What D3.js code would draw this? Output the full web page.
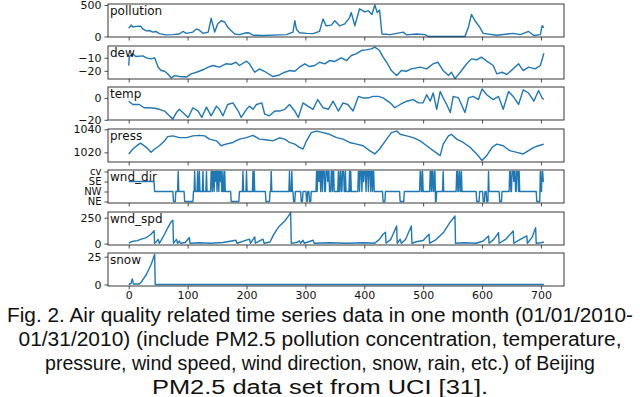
<!DOCTYPE html>
<html>
<head>
<meta charset="utf-8">
<script src="https://cdn.jsdelivr.net/npm/d3@7"></script>
<style>
  body { margin: 0; background: #fff; }
  svg { display: block; }
</style>
</head>
<body>
<div id="chart"></div>
<script>
// hourly records, Jan 2010 as [hour, value]
const pollution = [[0,130],[2,150],[4,183],[7,150],[12,160],[20,165],[24,120],[30,90],[35,95],[41,70],[46,80],[52,45],[63,25],[75,30],[86,40],[92,80],[98,50],[109,70],[115,120],[120,100],[126,50],[135,70],[140,289],[146,70],[151,200],[157,250],[163,230],[168,150],[174,90],[180,40],[188,30],[200,60],[205,55],[211,20],[228,15],[256,25],[268,30],[279,70],[282,250],[285,110],[290,60],[302,50],[313,45],[324,80],[330,280],[335,170],[344,180],[350,250],[358,170],[367,200],[375,300],[378,380],[384,170],[392,440],[401,390],[407,410],[413,350],[418,500],[422,380],[426,420],[430,40],[444,30],[466,70],[472,25],[489,40],[503,30],[509,0],[571,0],[577,150],[582,350],[588,250],[596,150],[602,50],[625,20],[653,50],[665,30],[679,80],[688,15],[699,30],[702,170],[705,140]];

const dew = [[0,-16],[1,-9],[7,-7],[12,-9],[24,-8.5],[30,-10],[38,-10.8],[44,-10],[50,-17.2],[55,-19.8],[61,-20.3],[66,-22.3],[72,-25.4],[78,-23.7],[86,-24.4],[98,-24.8],[106,-22.3],[115,-21.1],[126,-19.2],[135,-17.2],[143,-15.9],[154,-17.2],[165,-14.6],[174,-15],[182,-13.4],[188,-15.9],[200,-12.6],[205,-14.6],[214,-21.1],[222,-18.5],[233,-21.1],[245,-24.4],[256,-23.2],[265,-21.1],[273,-19.8],[282,-20.3],[290,-17.2],[299,-14.6],[307,-16.7],[316,-15.9],[324,-13.4],[333,-14.6],[341,-12.1],[350,-12.8],[361,-10],[370,-12.1],[378,-8.2],[386,-6.9],[395,-4.4],[403,-3.9],[412,-3.1],[418,-1.8],[426,-4.4],[432,-9.5],[438,-13.4],[446,-19.8],[455,-23.6],[463,-19.8],[472,-20.3],[480,-18.5],[495,-17.2],[506,-18.5],[517,-14.6],[525,-13.4],[534,-19.8],[543,-23.6],[548,-21.1],[554,-26],[563,-21.1],[574,-14.6],[582,-10.8],[591,-11.5],[599,-9.5],[608,-12.6],[619,-15.9],[625,-22.3],[634,-21.1],[642,-22.8],[653,-18.5],[662,-14.6],[670,-19.8],[679,-17.2],[690,-18.5],[699,-15.9],[705,-6.5]];

const temp = [[0,-3],[7,-6],[18,-6],[26,-9],[35,-9],[44,-9.5],[52,-10.4],[61,-12],[69,-16.4],[75,-19.4],[81,-13.4],[86,-10.4],[95,-14.9],[101,-17.9],[109,-9],[118,-12],[124,-17.9],[132,-8.4],[140,-16.4],[149,-7.5],[154,-10.4],[160,-16.4],[168,-6],[177,-4.5],[186,-12],[191,-17.9],[200,-10.4],[205,-7.5],[211,-10.4],[217,-6],[226,-4.5],[231,-14.9],[239,-16.4],[248,-12],[256,-12],[265,-10.4],[273,-6],[282,-12],[288,-17.9],[296,-4.5],[304,-7.5],[313,-10.4],[321,-1.5],[330,-9],[339,-10.4],[347,-3],[356,-12],[364,-4.5],[372,-6],[381,-12],[390,1.4],[398,0],[407,0],[415,1.4],[424,1.4],[432,0],[444,-4.5],[452,-9],[461,-6],[472,-3],[483,-1.5],[492,-4.5],[500,-4.5],[506,2.9],[512,-3],[517,4.5],[523,-10.4],[529,5.9],[534,0],[540,-6],[546,-13.4],[551,1.4],[560,0],[565,-6],[571,-13.4],[577,0],[585,1.4],[594,-1.5],[600,8.3],[608,2.9],[619,-1.5],[628,1.4],[636,-10.4],[645,5.9],[653,1.4],[662,-6],[670,7.4],[679,4.5],[688,-3],[696,6.8],[702,0],[705,-1.5]];

const press = [[0,1018.6],[7,1022.9],[15,1026.3],[20,1028],[30,1024.3],[38,1020],[44,1022.9],[52,1025.7],[61,1030],[66,1033.7],[75,1034.3],[86,1032.8],[98,1032.8],[109,1034.3],[120,1034.8],[129,1034.3],[137,1031.5],[149,1030],[157,1025.7],[165,1027.1],[177,1028.6],[188,1031.5],[200,1032.8],[211,1034.8],[222,1031.5],[233,1031],[245,1030],[256,1032.5],[265,1031.5],[273,1028.6],[282,1027.1],[290,1024.3],[296,1022.9],[302,1030],[310,1037.1],[319,1038.5],[330,1037.1],[341,1035.7],[353,1032.8],[364,1031.5],[375,1028.6],[387,1027.1],[398,1025.7],[409,1021.5],[418,1018.6],[426,1022.9],[438,1031.5],[446,1037.1],[455,1038.5],[461,1035.7],[472,1034.3],[483,1032.8],[495,1030],[506,1025.7],[517,1021.5],[529,1017.2],[534,1027.1],[543,1034.3],[548,1035.7],[557,1031.5],[568,1028.6],[580,1024.3],[591,1018.6],[600,1012.9],[608,1017.2],[617,1024.3],[625,1027.1],[636,1025.7],[647,1021.5],[659,1020],[670,1018.6],[679,1021.5],[688,1024.3],[696,1025.7],[705,1027.1]];

// wind direction as runs: [start hour, category index]
const windDirCategories = ['NE', 'NW', 'SE', 'cv'];
const windDirRuns = [[0,2],[44,1],[76,0],[80,1],[84,3],[85,1],[95,0],[110,1],[112,3],[113,1],[117,3],[118,1],[120,3],[121,1],[126,3],[127,1],[132,3],[133,1],[140,3],[142,1],[143,3],[145,1],[146,3],[147,2],[148,3],[150,1],[151,3],[153,1],[154,3],[156,2],[157,3],[158,1],[160,3],[161,1],[163,3],[164,1],[174,0],[188,1],[194,3],[195,1],[200,3],[201,1],[211,3],[212,1],[213,3],[214,1],[233,0],[240,1],[242,3],[243,1],[273,3],[274,1],[277,3],[278,1],[280,0],[283,1],[293,0],[296,1],[302,0],[304,1],[307,0],[310,1],[319,3],[320,1],[321,3],[323,2],[324,3],[326,1],[327,3],[329,1],[330,3],[333,1],[335,3],[338,2],[339,3],[341,1],[344,3],[346,1],[347,3],[349,1],[356,3],[357,1],[359,3],[361,1],[363,3],[366,1],[368,3],[369,1],[375,3],[376,1],[377,3],[378,1],[390,3],[392,1],[393,3],[396,1],[397,3],[399,2],[400,3],[403,1],[404,3],[407,1],[408,3],[411,1],[412,3],[414,1],[415,3],[417,1],[432,0],[436,1],[461,0],[468,1],[495,3],[497,1],[499,3],[500,1],[512,3],[514,1],[515,3],[517,1],[519,3],[521,0],[523,1],[534,3],[535,1],[557,3],[559,1],[561,3],[563,1],[565,3],[566,1],[591,0],[596,1],[602,0],[605,1],[608,0],[611,3],[612,1],[630,0],[634,1],[647,3],[649,1],[651,3],[654,2],[655,3],[657,1],[659,3],[662,1],[663,3],[664,1],[693,0],[699,3],[700,1],[702,3],[704,2]];
const lastHour = 705;

const windSpeed = [[0,3],[5,18],[10,25],[15,28],[20,40],[30,58],[38,90],[43,125],[44,2],[47,18],[50,40],[52,3],[55,30],[60,80],[66,150],[72,210],[75,225],[76,2],[81,40],[83,3],[86,25],[88,3],[96,10],[103,58],[104,3],[120,8],[140,3],[160,10],[182,32],[184,3],[205,42],[207,3],[214,64],[215,3],[228,42],[230,3],[240,15],[245,74],[250,122],[256,170],[265,218],[270,256],[275,300],[276,2],[285,10],[290,26],[292,3],[296,32],[298,3],[313,32],[315,3],[340,8],[370,3],[400,8],[418,3],[421,19],[426,42],[432,90],[436,110],[437,3],[445,40],[455,170],[456,3],[461,42],[463,3],[470,40],[480,170],[481,3],[490,20],[500,30],[510,90],[511,3],[520,30],[535,110],[545,200],[554,266],[555,3],[570,8],[590,3],[602,25],[611,74],[612,3],[620,40],[628,106],[629,3],[640,40],[653,122],[654,3],[662,30],[676,74],[677,3],[685,60],[691,154],[692,3],[700,8],[705,15]];

const snow = [[0,0],[4,1],[6,5],[8,0.5],[18,0.5],[21,2],[30,9],[38,18],[44,27],[45,0],[705,0]];

const xTicks = [0, 100, 200, 300, 400, 500, 600, 700];
const pollutionTicks = [0, 500];
const dewTicks = [-20, -10];
const tempTicks = [-20, 0];
const pressTicks = [1020, 1040];
const windDirTicks = [0, 1, 2, 3];
const windSpeedTicks = [0, 250];
const snowTicks = [0, 25];

const captionLines = [
  'Fig. 2. Air quality related time series data in one month (01/01/2010-',
  '01/31/2010) (include PM2.5 pollution concentration, temperature,',
  'pressure, wind speed, wind direction, snow, rain, etc.) of Beijing',
  'PM2.5 data set from UCI [31].'
];

// expand the wind direction runs into hourly steps
const windDir = [];
windDirRuns.forEach(function (r, i) {
  const end = i < windDirRuns.length - 1 ? windDirRuns[i + 1][0] - 1 : lastHour;
  windDir.push([r[0], r[1]]);
  if (end > r[0]) windDir.push([end, r[1]]);
});

const panels = [
  { name: 'pollution', data: pollution, domain: [-8, 516], ticks: pollutionTicks },
  { name: 'dew', data: dew, domain: [-26.3, -0.9], ticks: dewTicks },
  { name: 'temp', data: temp, domain: [-20.2, 10], ticks: tempTicks },
  { name: 'press', data: press, domain: [1011.6, 1040.3], ticks: pressTicks },
  { name: 'wnd_dir', data: windDir, domain: [-0.15, 3.15], ticks: windDirTicks, labels: windDirCategories },
  { name: 'wnd_spd', data: windSpeed, domain: [-14, 305], ticks: windSpeedTicks },
  { name: 'snow', data: snow, domain: [-1.35, 28.35], ticks: snowTicks }
];

const width = 640;
const height = 397;
const left = 108;
const right = 564;
const top0 = 4;
const step = 41.5;
const panelH = 33;
const blue = '#1f77b4';

const svg = d3.select('#chart').append('svg')
  .attr('width', width)
  .attr('height', height);

const x = d3.scaleLinear().domain([-35.2, 739.2]).range([left, right]);

panels.forEach(function (p, i) {
  const top = Math.round(top0 + i * step);
  const y = d3.scaleLinear().domain(p.domain).range([top + panelH, top]);

  const g = svg.append('g');

  const line = d3.line()
    .x(d => x(d[0]))
    .y(d => y(d[1]));

  g.append('path')
    .datum(p.data)
    .attr('d', line)
    .attr('fill', 'none')
    .attr('stroke', blue)
    .attr('stroke-width', 1.4)
    .attr('stroke-linejoin', 'round');

  // x axis ticks on every panel, labels only on the last
  const xAxis = d3.axisBottom(x).tickValues(xTicks).tickSize(3.5).tickPadding(2);
  if (i < panels.length - 1) xAxis.tickFormat('');
  const gx = g.append('g')
    .attr('transform', `translate(0,${top + panelH})`)
    .call(xAxis);

  const yAxis = d3.axisLeft(y).tickValues(p.ticks).tickSize(3.5).tickPadding(3);
  if (p.labels) yAxis.tickFormat(d => p.labels[d]);
  else yAxis.tickFormat(d3.format('d'));
  const gy = g.append('g')
    .attr('transform', `translate(${left},0)`)
    .call(yAxis);

  [gx, gy].forEach(a => {
    a.select('.domain').remove();
    a.selectAll('.tick line').attr('stroke', '#222').attr('stroke-width', 0.8);
    a.selectAll('.tick text')
      .attr('fill', '#111')
      .style('font-family', 'DejaVu Sans')
      .style('font-size', p.labels && a === gy ? '10px' : '11px');
  });

  g.append('rect')
    .attr('x', left)
    .attr('y', top)
    .attr('width', right - left)
    .attr('height', panelH)
    .attr('fill', 'none')
    .attr('stroke', '#222')
    .attr('stroke-width', 0.9);

  g.append('text')
    .attr('x', left + 2)
    .attr('y', top + 11)
    .attr('fill', '#111')
    .style('font-family', 'DejaVu Sans')
    .style('font-size', '12px')
    .text(p.name);
});

// caption, glyphs squeezed to the widths seen in the figure
const captionWidths = [626, 603, 550, 336];
svg.append('g').selectAll('text')
  .data(captionLines)
  .join('text')
  .attr('x', width / 2)
  .attr('y', (d, i) => 322 + i * 24)
  .attr('text-anchor', 'middle')
  .attr('textLength', (d, i) => captionWidths[i])
  .attr('lengthAdjust', 'spacingAndGlyphs')
  .attr('fill', '#111')
  .style('font-family', 'Liberation Sans, Arial, sans-serif')
  .style('font-size', '19.5px')
  .text(d => d);
</script>
</body>
</html>
